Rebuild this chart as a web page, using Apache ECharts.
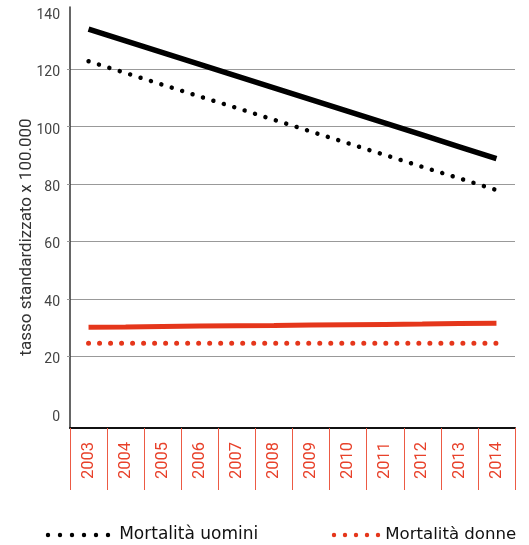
<!DOCTYPE html>
<html>
<head>
<meta charset="utf-8">
<script src="https://cdn.jsdelivr.net/npm/echarts@6/dist/echarts.min.js"></script>
<style>
html,body{margin:0;padding:0;background:#fff;}
#chart{width:529px;height:545px;}
</style>
</head>
<body>
<div id="chart"></div>
<script>
// ---- data ----
const years = ['2003','2004','2005','2006','2007','2008','2009','2010','2011','2012','2013','2014'];
const menSolid   = [134.0, 129.9, 125.8, 121.7, 117.6, 113.5, 109.4, 105.3, 101.2, 97.1, 93.0, 88.9];
const menDotted  = [122.8, 118.7, 114.6, 110.5, 106.5, 102.4, 98.3, 94.2, 90.1, 86.0, 82.0, 77.9];
const womenSolid = [30.1, 30.2, 30.4, 30.5, 30.6, 30.7, 30.9, 31.0, 31.1, 31.2, 31.4, 31.5];
const womenDotted= [24.5, 24.5, 24.5, 24.5, 24.5, 24.5, 24.5, 24.5, 24.5, 24.5, 24.5, 24.5];
const yLabels = [0, 20, 40, 60, 80, 100, 120, 140];
const yGrid = [20, 40, 60, 80, 100, 120];
const legendNames = ['Mortalità uomini', 'Mortalità donne'];
const yTitle = 'tasso standardizzato x 100.000';

const RED = '#e5361b';

function dots(n, gap, r) {
  let p = '';
  for (let k = 0; k < n; k++) {
    const cx = r + gap * k;
    p += 'M' + (cx - r) + ' ' + r + ' a' + r + ' ' + r + ' 0 1 0 ' + (2 * r) + ' 0 a' + r + ' ' + r + ' 0 1 0 ' + (-2 * r) + ' 0 Z ';
  }
  return 'path://' + p;
}

const chart = echarts.init(document.getElementById('chart'), null, {renderer: 'canvas'});
chart.setOption({
  animation: false,
  backgroundColor: '#fff',
  grid: {left: 70, right: 14, top: 7, bottom: 117, containLabel: false},
  legend: [
    {
      left: 45.8, top: 525, padding: 0, selectedMode: false,
      itemWidth: 64.4, itemHeight: 4.4,
      data: [{name: legendNames[0], icon: dots(6, 12, 2.2), itemStyle: {color: '#000', borderWidth: 0}}],
      textStyle: {fontFamily: "'DejaVu Sans', sans-serif", fontSize: 17, color: '#111', lineHeight: 20, padding: [0, 0, 0, 4]}
    },
    {
      left: 331.8, top: 525, padding: 0, selectedMode: false,
      itemWidth: 48.4, itemHeight: 4.4,
      data: [{name: legendNames[1], icon: dots(5, 11, 2.2), itemStyle: {color: RED, borderWidth: 0}}],
      textStyle: {fontFamily: "'DejaVu Sans', sans-serif", fontSize: 16.6, color: '#111', lineHeight: 20}
    }
  ],
  xAxis: {
    type: 'category',
    data: years,
    boundaryGap: true,
    axisLine: {onZero: false, lineStyle: {color: '#111', width: 2}},
    axisTick: {show: true, interval: 0, length: 62, lineStyle: {color: '#ec5a44', width: 1}},
    axisLabel: {interval: 0, rotate: 90, margin: 14, color: '#e8412a', fontFamily: 'Roboto, sans-serif', fontSize: 16.5},
    splitLine: {show: false}
  },
  yAxis: {
    type: 'value',
    min: -5, max: 141.7,
    name: yTitle,
    nameLocation: 'middle',
    nameRotate: 90,
    nameGap: 35,
    nameMoveOverlap: false,
    nameTextStyle: {fontFamily: 'Roboto, sans-serif', fontSize: 17, color: '#333', lineHeight: 17, padding: [0, 39, 0, 0]},
    axisLine: {show: true, lineStyle: {color: '#333', width: 1.5}},
    axisTick: {show: true, length: 3, customValues: yGrid, lineStyle: {color: '#999', width: 1}},
    axisLabel: {customValues: yLabels, margin: 10, color: '#444', fontFamily: 'Roboto, sans-serif', fontSize: 14, verticalAlign: 'top', lineHeight: 7},
    splitLine: {show: true, lineStyle: {color: '#999', width: 1}}
  },
  series: [
    {name: 'Incidenza uomini', type: 'line', data: menSolid, symbol: 'none', silent: true,
      lineStyle: {color: '#000', width: 5.5}, itemStyle: {color: '#000'}},
    {name: legendNames[0], type: 'line', data: menDotted, symbol: 'none', silent: true,
      lineStyle: {color: '#000', width: 4.5, type: [0.01, 10.9], cap: 'round'}, itemStyle: {color: '#000'}},
    {name: 'Incidenza donne', type: 'line', data: womenSolid, symbol: 'none', silent: true,
      lineStyle: {color: RED, width: 5}, itemStyle: {color: RED}},
    {name: legendNames[1], type: 'line', data: womenDotted, symbol: 'none', silent: true,
      lineStyle: {color: RED, width: 5, type: [0.01, 11], cap: 'round'}, itemStyle: {color: RED}}
  ]
});
</script>
</body>
</html>
